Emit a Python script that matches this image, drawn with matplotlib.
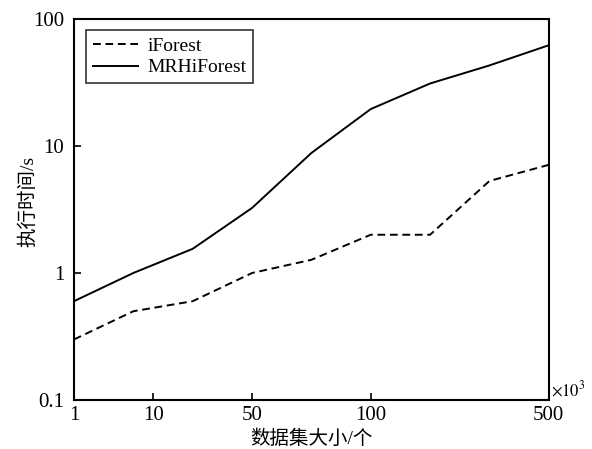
import matplotlib
matplotlib.use("Agg")
import matplotlib.pyplot as plt
import numpy as np
from matplotlib.ticker import FixedLocator, FixedFormatter, NullLocator

plt.rcParams['font.family'] = ['Liberation Serif', 'Noto Sans CJK SC', 'DejaVu Sans']
plt.rcParams['mathtext.fontset'] = 'stix'

# dataset size (x10^3) and run time (s)
sizes = [1, 5, 20, 50, 75, 100, 200, 300, 500]
iforest = [0.3, 0.5, 0.6, 1.0, 1.27, 2.0, 2.0, 5.3, 7.1]
mrhiforest = [0.6, 1.0, 1.55, 3.25, 8.8, 19.5, 31, 43, 62]
xticks = [1, 10, 50, 100, 500]
yticks = [0.1, 1, 10, 100]
ytick_labels = ["0.1", "1", "10", "100"]

# points sit evenly along the axis; map size -> slot index
slots = np.arange(len(sizes), dtype=float)


def fwd(x):
    return np.interp(x, sizes, slots)


def inv(i):
    return np.interp(i, slots, sizes)


fig = plt.figure(figsize=(5.92, 4.49), dpi=100)
ax = fig.add_axes([0.125, 0.109, 0.802, 0.849])

ax.plot(sizes, iforest, color="black", ls=(0, (4, 2.4)), lw=1.4, label="iForest")
ax.plot(sizes, mrhiforest, color="black", ls="-", lw=1.4, label="MRHiForest")

ax.set_xscale("function", functions=(fwd, inv))
ax.set_yscale("log")
ax.set_xlim(1, 500)
ax.set_ylim(0.1, 100)

ax.xaxis.set_major_locator(FixedLocator(xticks))
ax.xaxis.set_major_formatter(FixedFormatter([str(t) for t in xticks]))
ax.xaxis.set_minor_locator(NullLocator())
ax.yaxis.set_major_locator(FixedLocator(yticks))
ax.yaxis.set_major_formatter(FixedFormatter(ytick_labels))
ax.yaxis.set_minor_locator(NullLocator())

ax.tick_params(direction="in", length=5, width=1.2, labelsize=15)
ax.tick_params(axis="x", pad=4)
ax.tick_params(axis="y", pad=7)
for s in ax.spines.values():
    s.set_linewidth(1.5)

ax.set_xlabel("数据集大小/个", fontsize=14)
ax.set_ylabel("执行时间/s", fontsize=14)
ax.xaxis.set_label_coords(0.5, -0.078)
ax.yaxis.set_label_coords(-0.078, 0.52)
ax.text(1.005, 0.0, r"$\times 10^3$", transform=ax.transAxes, fontsize=12,
        ha="left", va="bottom")

leg = ax.legend(loc="upper left", fontsize=14, frameon=True, fancybox=False,
                edgecolor="black", handlelength=2.3, handletextpad=0.5,
                borderpad=0.35, labelspacing=0.2, bbox_to_anchor=(0.005, 0.995))
leg.get_frame().set_linewidth(1.2)

fig.savefig("out.png", dpi=100)
